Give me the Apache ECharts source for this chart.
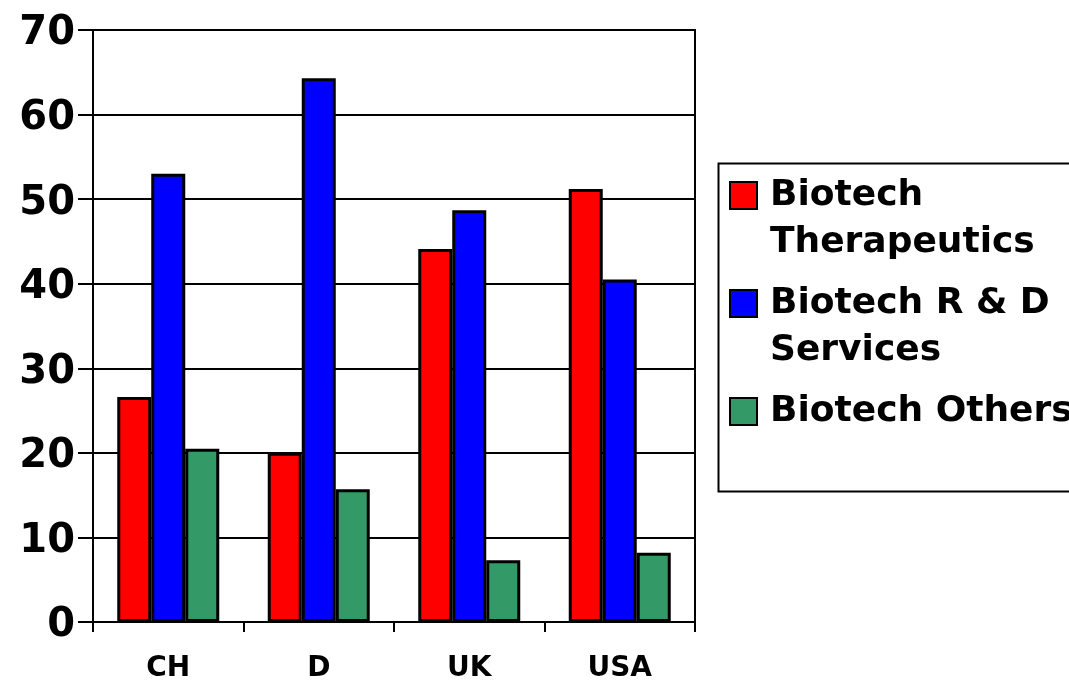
<!DOCTYPE html>
<html>
<head>
<meta charset="utf-8">
<script src="https://cdn.jsdelivr.net/npm/echarts@6/dist/echarts.min.js"></script>
<style>
  html, body {margin: 0; padding: 0; background: #fff;}
  #main {width: 1069px; height: 682px;}
</style>
</head>
<body>
<div id="main"></div>
<script>
// values
const countries = ['CH', 'D', 'UK', 'USA'];
const therapeutics = [26.6, 20.0, 44.1, 51.2];
const rdServices = [53.0, 64.3, 48.7, 40.5];
const others = [20.5, 15.7, 7.3, 8.2];
const yTicks = [0, 10, 20, 30, 40, 50, 60, 70];

const names = ['Biotech Therapeutics', 'Biotech R & D Services', 'Biotech Others'];
const legendText = ['Biotech\nTherapeutics', 'Biotech R & D\nServices', 'Biotech Others'];
const colors = ['#ff0000', '#0000ff', '#339966'];

var chartDom = document.getElementById('main');
var myChart = echarts.init(chartDom);

const font = 'DejaVu Sans, sans-serif';
const lh = 47;

var option = {
  animation: false,
  grid: {left: 93, right: 374, top: 30, bottom: 60, outerBoundsMode: 'none',
         show: true, borderColor: '#000', borderWidth: 2},
  // legend frame
  graphic: [{type: 'rect', left: 716, top: 161, shape: {width: 420, height: 328},
             style: {fill: 'none', stroke: '#000', lineWidth: 2}}],
  legend: {
    orient: 'vertical', left: 729, top: 125,
    padding: 0,
    icon: 'rect',
    itemWidth: 27, itemHeight: 27, itemGap: -33,
    itemStyle: {borderColor: '#000', borderWidth: 2},
    textStyle: {fontFamily: font, fontWeight: 'bold', fontSize: 36, lineHeight: lh, color: '#000', padding: [0, 0, 0, 8]},
    // empty lines keep the box symmetric so the icon sits on the first line
    formatter: function (name) {
      var t = legendText[names.indexOf(name)];
      return t.indexOf('\n') >= 0 ? ' \n' + t : ' \n' + t + '\n ';
    },
    data: names
  },
  xAxis: {
    type: 'category', data: countries,
    axisLine: {lineStyle: {color: '#000', width: 2}},
    axisTick: {show: true, length: 10, lineStyle: {color: '#000', width: 2}},
    axisLabel: {fontFamily: font, fontWeight: 'bold', fontSize: 28, color: '#000', margin: 33}
  },
  yAxis: {
    type: 'value', min: yTicks[0], max: yTicks[yTicks.length - 1], interval: 10,
    axisLine: {show: true, lineStyle: {color: '#000', width: 2}},
    axisTick: {show: true, length: 15, lineStyle: {color: '#000', width: 2}},
    splitLine: {lineStyle: {color: '#000', width: 2}},
    axisLabel: {fontFamily: font, fontWeight: 'bold', fontSize: 40, color: '#000', margin: 18,
                formatter: '{a|{value}}', rich: {a: {padding: [8, 0, 0, 0]}}}
  },
  series: [
    {name: names[0], type: 'bar', data: therapeutics, barWidth: 34, barGap: '0%',
     itemStyle: {color: colors[0], borderColor: '#000', borderWidth: 3}},
    {name: names[1], type: 'bar', data: rdServices, barWidth: 34, barGap: '0%',
     itemStyle: {color: colors[1], borderColor: '#000', borderWidth: 3}},
    {name: names[2], type: 'bar', data: others, barWidth: 34, barGap: '0%',
     itemStyle: {color: colors[2], borderColor: '#000', borderWidth: 3}}
  ]
};

option && myChart.setOption(option);
</script>
</body>
</html>
